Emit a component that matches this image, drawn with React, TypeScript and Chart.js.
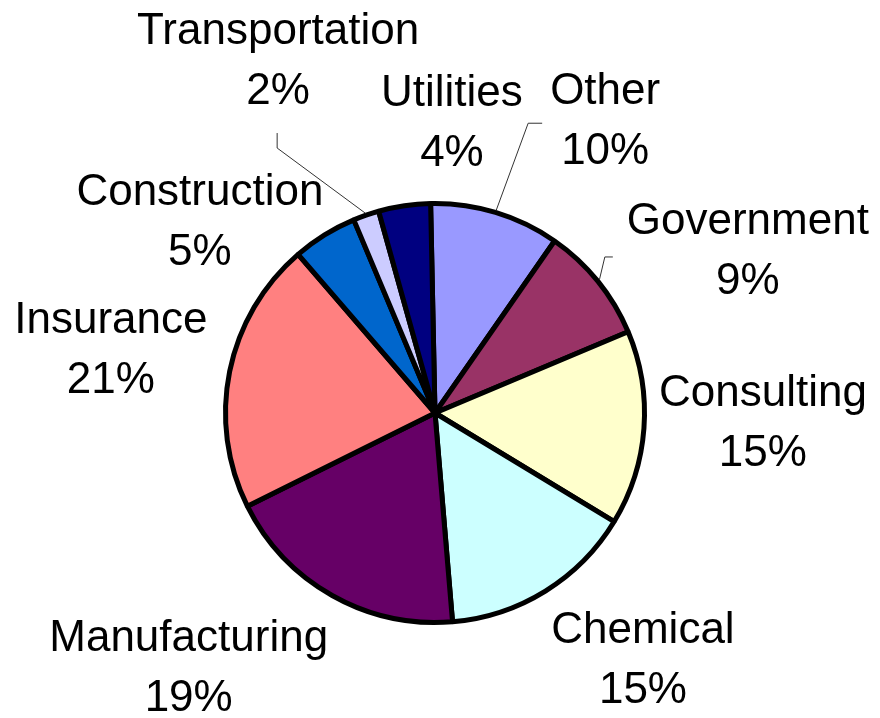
import React, { useEffect, useRef } from "react";
import { Chart, registerables } from "chart.js";

Chart.register(...registerables);

const categories = [
  "Other",
  "Government",
  "Consulting",
  "Chemical",
  "Manufacturing",
  "Insurance",
  "Construction",
  "Transportation",
  "Utilities",
];
const shares = [10, 9, 15, 15, 19, 21, 5, 2, 4];
const sliceColors = [
  "#9999FF",
  "#993366",
  "#FFFFCC",
  "#CCFFFF",
  "#660066",
  "#FF8080",
  "#0066CC",
  "#CCCCFF",
  "#000080",
];

// Label placement relative to each slice: angular nudge (deg) from the slice's
// mid-angle and distance from the centre as a multiple of the pie radius.
const labelAngleNudge = [14.6, 13.6, -0.2, -6.8, 13.2, -2.7, -21.1, -5.6, 11.9];
const labelDistance = [1.559, 1.653, 1.569, 1.591, 1.737, 1.565, 1.407, 1.785, 1.325];
// Leader line elbows, relative to the label anchor (null = no leader line)
const leaderElbows: (number[][] | null)[] = [
  [[-63, -11], [-77, -11]],
  [[-135, -7.5], [-143, -7.5]],
  null,
  null,
  null,
  null,
  null,
  [[-1, 59.5], [-1, 74.5]],
  null,
];

const LINE_GAP = 60;
const FONT = "44px 'Liberation Sans', Arial, sans-serif";

const outsideLabels = {
  id: "outsideLabels",
  afterDatasetsDraw(chart: any) {
    const meta = chart.getDatasetMeta(0);
    const ctx = chart.ctx as CanvasRenderingContext2D;
    const data = chart.data.datasets[0].data as number[];
    const total = data.reduce((s, v) => s + v, 0);
    ctx.save();
    meta.data.forEach((arc: any, i: number) => {
      const { x, y, startAngle, endAngle, outerRadius } = arc.getProps(
        ["x", "y", "startAngle", "endAngle", "outerRadius"],
        true
      );
      const mid = (startAngle + endAngle) / 2;
      const a = mid + (labelAngleNudge[i] * Math.PI) / 180;
      const d = labelDistance[i] * outerRadius;
      const lx = x + Math.cos(a) * d;
      const ly = y + Math.sin(a) * d;

      const elbows = leaderElbows[i];
      if (elbows) {
        const sx = x + Math.cos(mid) * (outerRadius + 2);
        const sy = y + Math.sin(mid) * (outerRadius + 2);
        ctx.beginPath();
        ctx.strokeStyle = "#333333";
        ctx.lineWidth = 1;
        ctx.moveTo(sx, sy);
        for (let k = elbows.length - 1; k >= 0; k--) {
          ctx.lineTo(lx + elbows[k][0], ly + elbows[k][1]);
        }
        ctx.stroke();
      }

      ctx.fillStyle = "#000000";
      ctx.font = FONT;
      ctx.textAlign = "center";
      ctx.textBaseline = "alphabetic";
      const pct = Math.round((data[i] / total) * 100) + "%";
      ctx.fillText(chart.data.labels[i], lx, ly - LINE_GAP / 2);
      ctx.fillText(pct, lx, ly + LINE_GAP / 2);
    });
    ctx.restore();
  },
};

export default function App() {
  const canvasRef = useRef<HTMLCanvasElement | null>(null);

  useEffect(() => {
    if (!canvasRef.current) return;
    const chart = new Chart(canvasRef.current, {
      type: "pie",
      data: {
        labels: categories,
        datasets: [
          {
            data: shares,
            backgroundColor: sliceColors,
            borderColor: "#000000",
            borderWidth: 5,
          },
        ],
      },
      options: {
        responsive: false,
        animation: false,
        devicePixelRatio: 1,
        rotation: -1.2,
        layout: {
          padding: { left: 223, top: 201, right: 233, bottom: 93 },
        },
        plugins: {
          legend: { display: false },
          tooltip: { enabled: false },
        },
      },
      plugins: [outsideLabels],
    });
    return () => chart.destroy();
  }, []);

  return (
    <div style={{ position: "fixed", left: 0, top: 0, width: 880, height: 718, background: "#fff" }}>
      <canvas ref={canvasRef} width={880} height={718} style={{ width: 880, height: 718 }} />
    </div>
  );
}
